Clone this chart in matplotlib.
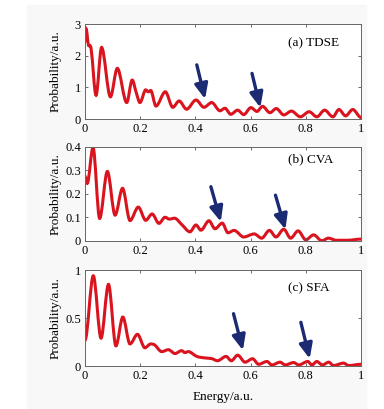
"""Photoelectron energy spectra: TDSE, CVA and SFA panels."""
import matplotlib
matplotlib.use('Agg')
from matplotlib import pyplot as plt
from matplotlib.path import Path
from matplotlib.patches import PathPatch, Rectangle

# energy / probability (local extrema mostly)
tdse_e = [0, 0.004, 0.012, 0.022, 0.04, 0.06, 0.092, 0.117, 0.151, 0.171,
          0.186, 0.199, 0.22, 0.229, 0.238, 0.257, 0.291, 0.318, 0.341,
          0.368, 0.402, 0.431, 0.459, 0.489, 0.507, 0.528, 0.553, 0.575,
          0.601, 0.623, 0.643, 0.67, 0.693, 0.72, 0.748, 0.78, 0.812, 0.84,
          0.868, 0.898, 0.92, 0.944, 0.97, 1.0]
tdse_p = [2.45, 2.85, 2.35, 2.22, 0.75, 2.26, 0.7, 1.6, 0.52, 1.23,
          0.82, 0.52, 0.92, 0.86, 0.9, 0.41, 0.86, 0.37, 0.57,
          0.31, 0.6, 0.37, 0.52, 0.26, 0.34, 0.15, 0.28, 0.14,
          0.36, 0.24, 0.4, 0.2, 0.33, 0.13, 0.25, 0.07, 0.23, 0.07,
          0.28, 0.07, 0.3, 0.1, 0.3, 0.05]

cva_e = [0, 0.008, 0.029, 0.053, 0.081, 0.109, 0.136, 0.163, 0.193, 0.22,
         0.243, 0.268, 0.29, 0.306, 0.324, 0.352, 0.38, 0.402, 0.42, 0.449,
         0.471, 0.497, 0.518, 0.54, 0.575, 0.613, 0.64, 0.668, 0.692, 0.72,
         0.745, 0.772, 0.8, 0.828, 0.858, 0.882, 0.91, 0.95, 1.0]
cva_p = [0.275, 0.245, 0.398, 0.096, 0.296, 0.11, 0.224, 0.087, 0.144, 0.088,
         0.115, 0.075, 0.101, 0.093, 0.097, 0.068, 0.039, 0.068, 0.046, 0.086,
         0.052, 0.076, 0.035, 0.045, 0.017, 0.03, 0.012, 0.045, 0.017, 0.05,
         0.012, 0.043, 0.005, 0.026, 0.001, 0.012, 0.003, 0.003, 0.008]

sfa_e = [0, 0.03, 0.058, 0.085, 0.112, 0.137, 0.163, 0.19, 0.217, 0.238,
         0.252, 0.278, 0.302, 0.326, 0.35, 0.362, 0.374, 0.405, 0.435, 0.459,
         0.48, 0.511, 0.53, 0.553, 0.58, 0.607, 0.629, 0.659, 0.677, 0.707,
         0.725, 0.756, 0.774, 0.807, 0.822, 0.84, 0.86, 0.883, 0.9, 0.937,
         0.955, 1.0]
sfa_p = [0.27, 0.94, 0.29, 0.85, 0.21, 0.51, 0.23, 0.33, 0.19, 0.23,
         0.22, 0.15, 0.17, 0.13, 0.16, 0.14, 0.15, 0.10, 0.084, 0.077,
         0.055, 0.1, 0.055, 0.113, 0.04, 0.076, 0.018, 0.047, 0.011, 0.04,
         0.011, 0.036, 0.011, 0.047, 0.011, 0.047, 0.011, 0.04, 0.005, 0.03,
         0.005, 0.018]

labels = ['(a) TDSE', '(b) CVA', '(c) SFA']
y_limits = [3, 0.4, 1]
y_ticks = [[0, 1, 2, 3], [0, 0.1, 0.2, 0.3, 0.4], [0, 0.5, 1]]
y_ticklabels = [['0', '1', '2', '3'], ['0', '0.1', '0.2', '0.3', '0.4'],
                ['0', '0.5', '1']]
x_ticks = [0, 0.2, 0.4, 0.6, 0.8, 1]
x_ticklabels = ['0', '0.2', '0.4', '0.6', '0.8', '1']

# arrows: (tail energy, tail prob, head energy, head prob)
arrows = [
    [(0.405, 1.71, 0.435, 0.63), (0.605, 1.44, 0.635, 0.36)],
    [(0.456, 0.231, 0.492, 0.082), (0.69, 0.195, 0.726, 0.049)],
    [(0.538, 0.545, 0.572, 0.164), (0.782, 0.455, 0.814, 0.076)],
]

RED = '#d9141e'
NAVY = '#1b2a72'
plt.rcParams['font.family'] = ['Liberation Serif', 'DejaVu Serif']


def smooth_path(x, y):
    """Cubic path through the points, flat at local extrema."""
    n = len(x)
    slopes = []
    for i in range(n):
        if i == 0 or i == n - 1:
            slopes.append(0.0)
            continue
        dl = y[i] - y[i - 1]
        dr = y[i + 1] - y[i]
        if dl * dr <= 0:
            slopes.append(0.0)
        else:
            slopes.append((y[i + 1] - y[i - 1]) / (x[i + 1] - x[i - 1]))
    verts = [(x[0], y[0])]
    codes = [Path.MOVETO]
    for i in range(n - 1):
        dx = (x[i + 1] - x[i]) / 3.0
        verts += [(x[i] + dx, y[i] + slopes[i] * dx),
                  (x[i + 1] - dx, y[i + 1] - slopes[i + 1] * dx),
                  (x[i + 1], y[i + 1])]
        codes += [Path.CURVE4] * 3
    return Path(verts, codes)


fig = plt.figure(figsize=(3.84, 4.09), dpi=100)
fig.patches.append(Rectangle((27 / 384, 0), 339 / 384, 404 / 409,
                             transform=fig.transFigure, color='#f8f8f8',
                             zorder=-10))

boxes = [[0.2214, 0.709, 0.7188, 0.2323],
         [0.2214, 0.4108, 0.7188, 0.2298],
         [0.2214, 0.1051, 0.7188, 0.2347]]
series = [(tdse_e, tdse_p), (cva_e, cva_p), (sfa_e, sfa_p)]
label_y = [0.8, 0.87, 0.81]

for k in range(3):
    ax = fig.add_axes(boxes[k])
    ax.set_facecolor('white')
    energy, prob = series[k]
    ax.add_patch(PathPatch(smooth_path(energy, prob), fill=False,
                           edgecolor=RED, lw=2.2, capstyle='round'))
    for tx, ty, hx, hy in arrows[k]:
        ax.annotate('', xy=(hx, hy), xytext=(tx, ty),
                    arrowprops=dict(arrowstyle='-|>,head_length=0.75,'
                                               'head_width=0.33',
                                    color=NAVY, lw=2.4, mutation_scale=12,
                                    shrinkA=0, shrinkB=0))
    ax.set_xlim(0, 1)
    ax.set_ylim(0, y_limits[k])
    ax.set_xticks(x_ticks)
    ax.set_xticklabels(x_ticklabels)
    ax.set_yticks(y_ticks[k])
    ax.set_yticklabels(y_ticklabels[k])
    ax.tick_params(direction='in', top=True, right=True, length=2.5,
                   width=0.6, color='#555555', labelsize=9, pad=3)
    for sp in ax.spines.values():
        sp.set_color('#666666')
        sp.set_linewidth(0.7)
    ax.set_ylabel('Probability/a.u.', fontsize=9.5)
    ax.yaxis.set_label_coords(-0.085, 0.5)
    ax.text(0.735, label_y[k], labels[k], transform=ax.transAxes,
            fontsize=9.5, va='center', ha='left')
    if k == 2:
        ax.set_xlabel('Energy/a.u.', fontsize=9.5, labelpad=6)

fig.savefig('out.png', dpi=100)
